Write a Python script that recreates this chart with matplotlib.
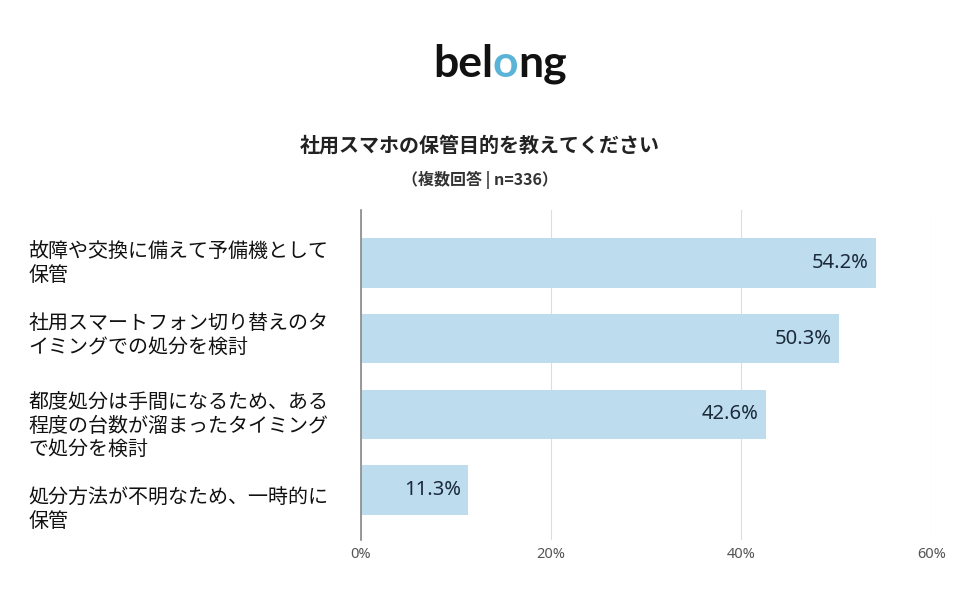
import matplotlib
matplotlib.use("Agg")
import matplotlib.pyplot as plt

plt.rcParams['font.family'] = ['Noto Sans CJK JP', 'DejaVu Sans']

# data
labels = [
    "故障や交換に備えて予備機として\n保管",
    "社用スマートフォン切り替えのタ\nイミングでの処分を検討",
    "都度処分は手間になるため、ある\n程度の台数が溜まったタイミング\nで処分を検討",
    "処分方法が不明なため、一時的に\n保管",
]
values = [54.2, 50.3, 42.6, 11.3]
xticks = [0, 20, 40, 60]
xtick_labels = ["0%", "20%", "40%", "60%"]

title = "社用スマホの保管目的を教えてください"
subtitle = "（複数回答 | n=336）"

bar_color = "#bddcee"
text_color = "#1b2a3a"

# the labels in the original sit a little off the bar centres
label_shift = [0.01, -0.04, 0.16, 0.26]

fig = plt.figure(figsize=(9.6, 6), dpi=100)
ax = fig.add_axes([0.376, 0.1, 0.594, 0.55])

ypos = list(range(len(values)))
ax.barh(ypos, values, height=0.65, color=bar_color, zorder=2)

for y, v in zip(ypos, values):
    ax.text(v - 0.8, y, f"{v}%", ha="right", va="center",
            fontsize=14.5, color=text_color, family="Noto Sans", zorder=3)

ax.set_xlim(0, 60)
ax.set_ylim(3.66, -0.70)
ax.set_xticks(xticks)
ax.set_xticklabels(xtick_labels, fontsize=10.5, color="#555555", family="Noto Sans")
ax.set_yticks([])
ax.tick_params(axis="x", length=0, pad=5)
ax.grid(axis="x", color="#dddddd", linewidth=0.8, zorder=0)
for s in ["top", "right", "bottom"]:
    ax.spines[s].set_visible(False)
ax.spines["left"].set_color("#888888")
ax.spines["left"].set_linewidth(1.2)
ax.spines["left"].set_zorder(4)

# category labels, left aligned
for y, lab, dy in zip(ypos, labels, label_shift):
    ax.text(-0.583, y + dy, lab, transform=ax.get_yaxis_transform(),
            ha="left", va="center", fontsize=14.4, color="#111111",
            linespacing=1.15)

fig.text(0.5, 0.758, title, ha="center", va="center",
         fontsize=14.4, fontweight="bold", color="#222222")
fig.text(0.5, 0.7, subtitle, ha="center", va="center",
         fontsize=11.5, fontweight="bold", color="#333333")

# logo
logo_kw = dict(fontsize=32, fontweight="bold", family="Lato")
t1 = fig.text(0.451, 0.86, "bel", ha="left", va="bottom", color="#111111", **logo_kw)
a2 = fig.add_artist(plt.Annotation("o", xy=(1, 0), xycoords=t1, va="bottom",
                                   color="#5bb4d8", **logo_kw))
a3 = fig.add_artist(plt.Annotation("ng", xy=(1, 0), xycoords=a2, va="bottom",
                                   color="#111111", **logo_kw))

fig.savefig("out.png", dpi=100, facecolor="white")
